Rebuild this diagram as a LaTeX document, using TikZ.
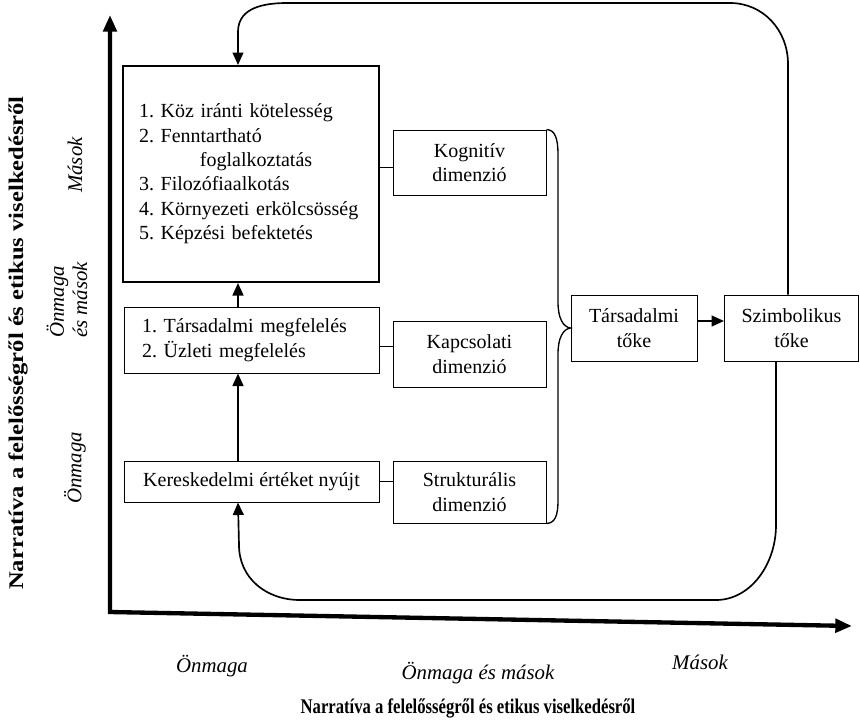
\documentclass[tikz,border=0pt]{standalone}
\usepackage{fontspec}
\setmainfont{Liberation Serif}
\usetikzlibrary{arrows.meta}

\begin{document}
\frenchspacing
\begin{tikzpicture}[x=0.6pt,y=-0.6pt,font=\fontsize{12}{14.6}\selectfont,
    box/.style={draw,line width=0.6pt,inner sep=0pt,align=center},
    lbl/.style={font=\fontsize{12.5}{14}\selectfont\itshape,inner sep=0pt},
    ttl/.style={font=\fontsize{12.5}{14}\selectfont\bfseries,inner sep=0pt}]
  \useasboundingbox (0,0) rectangle (860,722);
  \coordinate (o) at (110,612);
  \coordinate (ax) at (238,0);
  \coordinate (rx) at (788,0);
  \coordinate (bx) at (776,0);

  \node[box,line width=1.2pt,minimum width=256*0.6pt,minimum height=216*0.6pt,
    text width=224*0.6pt,align=left] (felelos) at (251,174)
    {1. Köz iránti kötelesség\\2. Fenntartható\\\hspace*{36.6pt}foglalkoztatás\\
     3. Filozófiaalkotás\\4. Környezeti erkölcsösség\\5. Képzési befektetés};
  \node[box,minimum width=255*0.6pt,minimum height=66*0.6pt,
    text width=219*0.6pt,align=left] (megfelel) at (251.5,340)
    {1. Társadalmi megfelelés\\2. Üzleti megfelelés};
  \node[box,minimum width=255*0.6pt,minimum height=41*0.6pt] (keresk) at (251.5,481.5)
    {Kereskedelmi értéket nyújt};
  \node[box,minimum width=153*0.6pt,minimum height=65*0.6pt] (kognitiv) at (469.5,162.5)
    {Kognitív\\dimenzió};
  \node[box,minimum width=153*0.6pt,minimum height=66*0.6pt] (kapcsolati) at (469.5,354)
    {Kapcsolati\\dimenzió};
  \node[box,minimum width=153*0.6pt,minimum height=62*0.6pt] (strukt) at (469.5,492)
    {Strukturális\\dimenzió};
  \node[box,minimum width=126*0.6pt,minimum height=66*0.6pt] (tarsadalmi) at (634,328)
    {Társadalmi\\tőke};
  \node[box,minimum width=134*0.6pt,minimum height=66*0.6pt] (szimbol) at (791.5,328)
    {Szimbolikus\\tőke};

  \draw[line width=2.6pt,{Triangle[length=10pt,width=8pt]}-{Triangle[length=10pt,width=8pt]}]
    (110,15) |- (o) -- (852,626);

  \node[ttl,rotate=90] (ycim) at (18,343)
    {\scalebox{1.18}[1]{Narratíva a felelősségről és etikus viselkedésről}};
  \node[lbl,rotate=90] (ymasok) at (75,165) {Mások};
  \node[lbl,rotate=90,align=left] (ymind) at (67,300) {Önmaga\\és mások};
  \node[lbl,rotate=90] (yon) at (75,468) {Önmaga};
  \node[lbl] (xon) at (212,666) {Önmaga};
  \node[lbl] (xmind) at (478,673) {Önmaga és mások};
  \node[lbl] (xmasok) at (700,662) {Mások};
  \node[ttl] (xcim) at (468,708)
    {\scalebox{0.8}[1]{Narratíva a felelősségről és etikus viselkedésről}};

  \draw[line width=0.6pt] ([yshift=-2.7pt]kognitiv.west) -- ([yshift=-2.7pt]kognitiv.west -| felelos.east)
    ([yshift=-3.6pt]megfelel.east) -- ([yshift=-3.6pt]megfelel.east -| kapcsolati.west)
    (keresk.east) -- (keresk.east -| strukt.west);
  \draw[line width=0.8pt] (kognitiv.north east) .. controls (555,130) and (558,138) .. (558,155)
    -- (558,302) .. controls (558,318) and (563,327) .. (tarsadalmi.west)
    .. controls (563,329) and (558,338) .. (558,354)
    -- (558,500) .. controls (558,516) and (555,523) .. (strukt.south east);

  \path[-{Stealth[inset=0pt,length=7.5pt,width=6.5pt]},line width=1.2pt]
    (megfelel.north -| ax) edge (felelos.south -| ax)
    (keresk.north -| ax) edge (megfelel.south -| ax)
    ([yshift=4.2pt]tarsadalmi.east) edge ([yshift=4.2pt]tarsadalmi.east -| szimbol.west);
  \draw[line width=1pt,-{Stealth[inset=0pt,length=7.5pt,width=6.5pt]}]
    (szimbol.north -| rx) -- (788,64) .. controls (788,30) and (763,3) .. (730,3)
    -- (287,3) .. controls (255,3) and (238,12) .. (238,32) -- (felelos.north -| ax);
  \draw[line width=1pt,-{Stealth[inset=0pt,length=7.5pt,width=6.5pt]}]
    (szimbol.south -| bx) -- (776,525) .. controls (776,565) and (750,600) .. (716,600)
    -- (300,600) .. controls (266,600) and (239,578) .. (239,545) -- (keresk.south -| ax);
\end{tikzpicture}
\end{document}
